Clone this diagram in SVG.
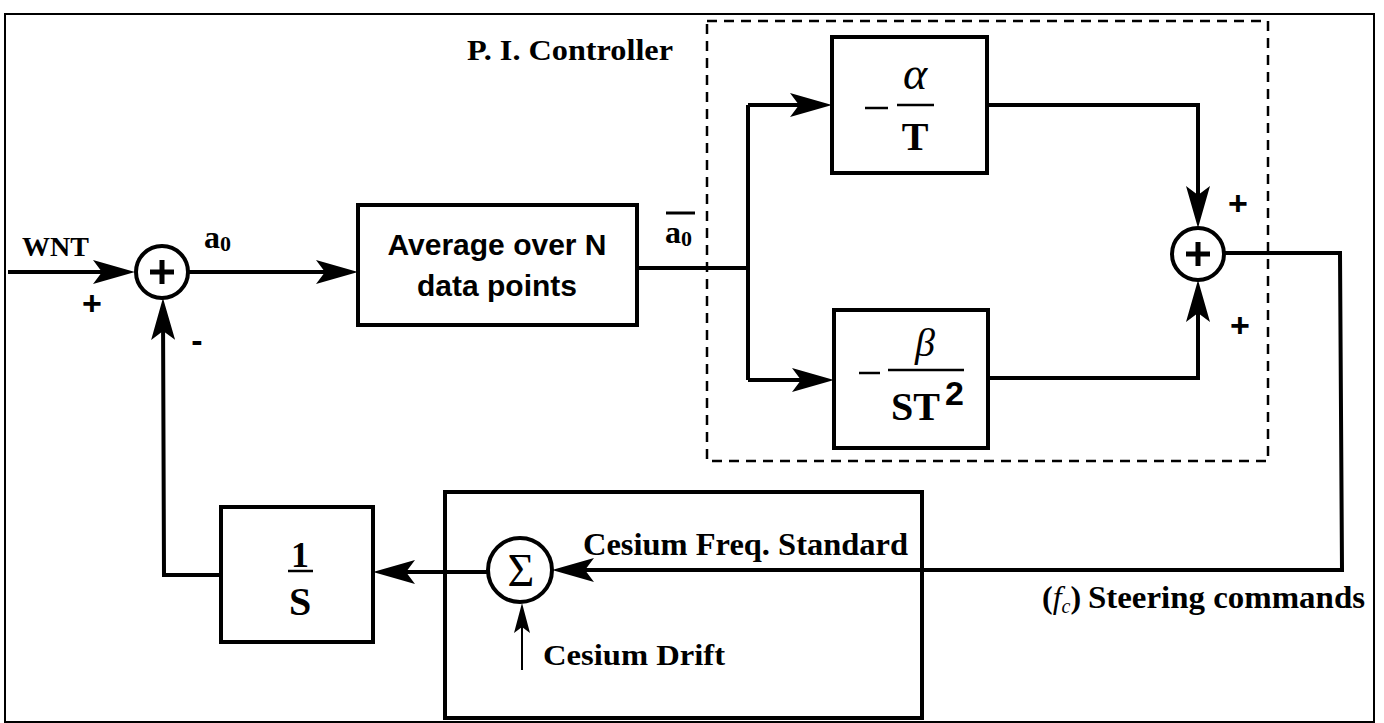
<svg xmlns="http://www.w3.org/2000/svg" width="1384" height="723" viewBox="0 0 1384 723">
<style>
.box{fill:#fff;stroke:#000;stroke-width:4}
.open{fill:none;stroke:#000;stroke-width:4}
.circ{fill:#fff;stroke:#000;stroke-width:4}
.ln{fill:none;stroke:#000;stroke-width:4;stroke-linejoin:miter}
.thin{fill:none;stroke:#000;stroke-width:2}
.dash{fill:none;stroke:#000;stroke-width:2.5;stroke-dasharray:10 7}
.serif{font-family:"Liberation Serif","Times New Roman",serif;font-weight:bold;fill:#000}
.reg{font-family:"Liberation Serif","Times New Roman",serif;font-weight:normal;fill:#000}
.ital{font-family:"Liberation Serif","Times New Roman",serif;font-style:italic;font-weight:normal;fill:#000}
.sans{font-family:"Liberation Sans",Arial,sans-serif;font-weight:bold;fill:#000}
.bar{stroke:#000;stroke-width:2.5}
</style>
<defs>
<marker id="ah" viewBox="0 0 42 24" refX="30" refY="12" markerWidth="42" markerHeight="24" orient="auto" markerUnits="userSpaceOnUse">
<path d="M0,0 L42,12 L0,24 L9,12 Z" fill="#000"/>
</marker>
<marker id="ahs" viewBox="0 0 30 16" refX="24" refY="8" markerWidth="30" markerHeight="16" orient="auto" markerUnits="userSpaceOnUse">
<path d="M0,0 L30,8 L0,16 L6,8 Z" fill="#000"/>
</marker>
</defs>
<rect x="0" y="0" width="1384" height="723" fill="#fff"/>
<rect x="5" y="14" width="1369" height="708" fill="none" stroke="#000" stroke-width="2"/>

<g id="pi-controller">
<rect x="707" y="21" width="561" height="440" class="dash"/>
<text class="serif" x="467" y="60" font-size="30" textLength="206" lengthAdjust="spacingAndGlyphs">P. I. Controller</text>
</g>

<g id="cesium">
<rect x="445" y="492" width="477" height="226" class="open"/>
<text class="serif" x="583" y="555" font-size="32" textLength="325" lengthAdjust="spacingAndGlyphs">Cesium Freq. Standard</text>
</g>

<g id="connectors">
<line x1="8" y1="272" x2="123" y2="272" class="ln" marker-end="url(#ah)"/>
<line x1="188" y1="272" x2="346" y2="272" class="ln" marker-end="url(#ah)"/>
<polyline points="637,268 748,268" class="ln"/>
<polyline points="748,105 748,380" class="ln"/>
<line x1="748" y1="105" x2="820" y2="105" class="ln" marker-end="url(#ah)"/>
<line x1="748" y1="380" x2="822" y2="380" class="ln" marker-end="url(#ah)"/>
<polyline points="987,105 1198,105 1198,216" class="ln" marker-end="url(#ah)"/>
<polyline points="988,378 1198,378 1198,292" class="ln" marker-end="url(#ah)"/>
<polyline points="1224,253 1340,253 1342,570 564,570" class="ln" marker-end="url(#ah)"/>
<line x1="488" y1="572" x2="385" y2="572" class="ln" marker-end="url(#ah)"/>
<polyline points="221,575 164,575 163,310" class="ln" marker-end="url(#ah)"/>
<line x1="522" y1="670" x2="522" y2="609" class="thin" marker-end="url(#ahs)"/>
</g>

<g id="sum1">
<circle cx="162" cy="272" r="26" class="circ"/>
<path d="M150,272 H174 M162,260 V284" stroke="#000" stroke-width="5"/>
</g>

<g id="avg">
<rect x="358" y="205" width="279" height="120" class="box"/>
<text class="sans" x="497" y="255" font-size="30" text-anchor="middle">Average over N</text>
<text class="sans" x="497" y="296" font-size="30" text-anchor="middle">data points</text>
</g>

<g id="alpha">
<rect x="832" y="37" width="155" height="136" class="box"/>
<line x1="865" y1="108" x2="888" y2="108" class="bar"/>
<text class="ital" x="915" y="89" font-size="46" text-anchor="middle">α</text>
<line x1="897" y1="105" x2="934" y2="105" class="bar"/>
<text class="serif" x="915" y="150" font-size="40" text-anchor="middle">T</text>
</g>

<g id="beta">
<rect x="834" y="310" width="154" height="138" class="box"/>
<line x1="859" y1="373" x2="880" y2="373" class="bar"/>
<text class="ital" x="925" y="356" font-size="40" text-anchor="middle">β</text>
<line x1="888" y1="370" x2="964" y2="370" class="bar"/>
<text class="serif" x="891" y="420" font-size="40">ST</text>
<text class="sans" x="945" y="405" font-size="34">2</text>
</g>

<g id="sum2">
<circle cx="1198" cy="254" r="26" class="circ"/>
<path d="M1186,254 H1210 M1198,242 V266" stroke="#000" stroke-width="5"/>
</g>

<g id="inv-s">
<rect x="221" y="507" width="152" height="135" class="box"/>
<text class="serif" x="300" y="567" font-size="36" text-anchor="middle">1</text>
<line x1="288" y1="571" x2="313" y2="571" class="bar"/>
<text class="serif" x="300" y="615" font-size="40" text-anchor="middle">S</text>
</g>

<g id="sigma">
<circle cx="520" cy="570" r="32" class="circ"/>
<text class="reg" x="521" y="586" font-size="46" text-anchor="middle">Σ</text>
</g>

<g id="labels">
<text class="serif" x="22" y="256" font-size="28">WNT</text>
<text class="sans" x="92" y="315" font-size="34" text-anchor="middle">+</text>
<text class="sans" x="197" y="352" font-size="34" text-anchor="middle">-</text>
<text class="serif" x="204" y="248" font-size="32">a<tspan font-size="22" dy="3">0</tspan></text>
<line x1="666" y1="213" x2="695" y2="213" stroke="#000" stroke-width="3"/>
<text class="serif" x="665" y="243" font-size="32">a<tspan font-size="22" dy="3">0</tspan></text>
<text class="sans" x="1238" y="215" font-size="34" text-anchor="middle">+</text>
<text class="sans" x="1240" y="337" font-size="34" text-anchor="middle">+</text>
<text class="serif" x="543" y="665" font-size="30" textLength="182" lengthAdjust="spacingAndGlyphs">Cesium Drift</text>
<text class="serif" x="1042" y="608" font-size="32">(<tspan class="ital">f</tspan><tspan font-size="20" dy="5" class="ital">c</tspan><tspan dy="-5">)</tspan></text>
<text class="serif" x="1088" y="608" font-size="32" textLength="277" lengthAdjust="spacingAndGlyphs">Steering commands</text>
</g>
</svg>
